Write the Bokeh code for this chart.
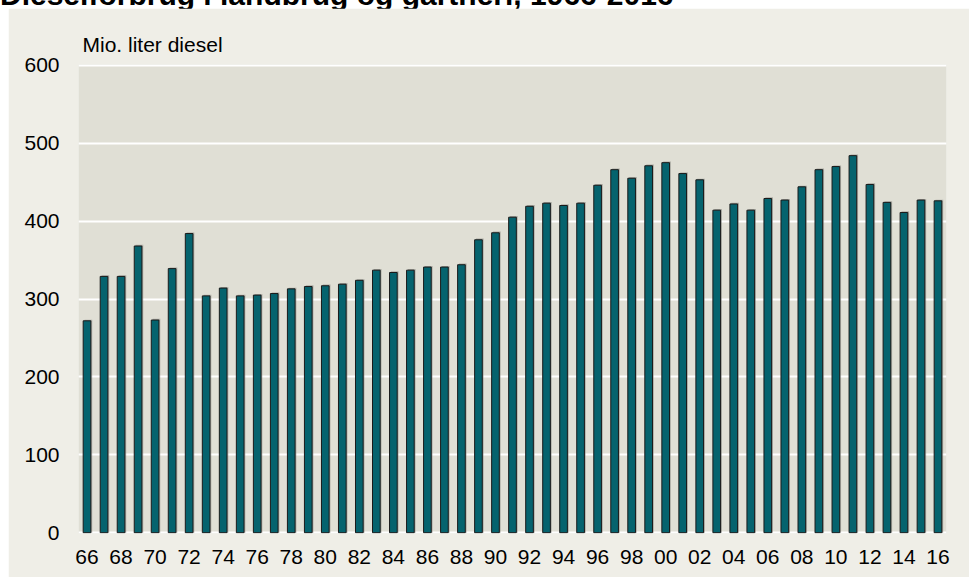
from bokeh.plotting import figure
from bokeh.models import ColumnDataSource, FixedTicker, Range1d, Div, Title
from bokeh.layouts import column
from bokeh.transform import dodge
from bokeh.embed import file_html
from bokeh.resources import INLINE

# ---- data ----
years = list(range(1966, 2017))
diesel = [272, 329, 329, 368, 273, 339, 384, 304, 314, 304, 305, 307, 313, 316, 317, 319, 324,
          337, 334, 337, 341, 341, 344, 376, 385, 405, 419, 423, 420, 423, 446, 466, 455, 471,
          475, 461, 453, 414, 422, 414, 429, 427, 444, 466, 470, 484, 447, 424, 411, 427, 426]
tick_years = list(range(1966, 2017, 2))
tick_labels = [f"{y % 100:02d}" for y in tick_years]
y_ticks = [0, 100, 200, 300, 400, 500, 600]
title_text = "Dieselforbrug i landbrug og gartneri, 1966-2016"
unit_text = "Mio. liter diesel"

OUTER = "#efeee7"
INNER = "#e0dfd5"
BAR = "#05636e"
FONT = "Liberation Sans"

src = ColumnDataSource(dict(year=years, value=diesel))

p = figure(width=961, height=569, output_backend="svg", toolbar_location=None,
           x_range=Range1d(1965.5, 2016.5), y_range=Range1d(-1, 601),
           min_border_left=70, min_border_right=23, min_border_top=56, min_border_bottom=44,
           background_fill_color=INNER, border_fill_color=OUTER, outline_line_color=None,
           margin=(0, 0, 0, 8))

# soft shadow behind the bars
p.vbar(x=dodge("year", 0.08), top=dodge("value", 1.5), width=0.45, source=src,
       fill_color="#8a8a84", fill_alpha=0.6, line_color=None)
p.vbar(x="year", top="value", width=0.45, source=src,
       fill_color=BAR, line_color="#1a1a1a", line_width=1)

p.add_layout(Title(text=unit_text, align="left", offset=4, standoff=17,
                   text_font=FONT, text_font_size="21px", text_font_style="normal",
                   text_color="#000000"), "above")

p.xgrid.grid_line_color = None
p.ygrid.grid_line_color = "white"
p.ygrid.grid_line_width = 2
p.ygrid.ticker = FixedTicker(ticks=y_ticks)

p.yaxis.ticker = FixedTicker(ticks=y_ticks)
p.xaxis.ticker = FixedTicker(ticks=tick_years)
p.xaxis.major_label_overrides = {y: l for y, l in zip(tick_years, tick_labels)}

for ax in (p.xaxis, p.yaxis):
    ax.axis_line_color = None
    ax.major_tick_line_color = None
    ax.minor_tick_line_color = None
    ax.major_tick_out = 0
    ax.major_tick_in = 0
    ax.major_label_text_font = FONT
    ax.major_label_text_font_size = "21px"
    ax.major_label_text_color = "#000000"
p.yaxis.major_label_standoff = 19
p.xaxis.major_label_standoff = 16

head = Div(text=f'<div style="position:relative; left:0px; top:-20px; font-family:\'{FONT}\'; '
                f'font-weight:bold; font-size:30px; line-height:30px; white-space:nowrap; '
                f'color:#000;">{title_text}</div>',
           width=961, height=8, margin=(0, 0, 0, 0), styles={"overflow": "visible"})

layout = column(head, p, spacing=0)
open("out.html", "w").write(file_html(layout, INLINE))
